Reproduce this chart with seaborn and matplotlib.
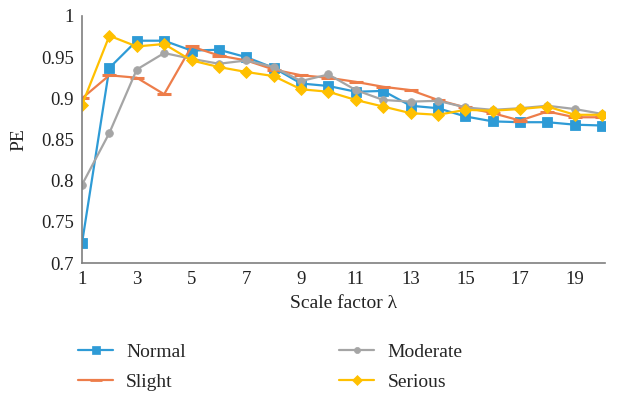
import matplotlib
matplotlib.use("Agg")
import matplotlib.pyplot as plt
import seaborn as sns
import pandas as pd

# Scale factor values
scale = list(range(1, 21))

# PE for each group
normal = [0.724, 0.937, 0.970, 0.970, 0.958, 0.959, 0.950, 0.937, 0.918, 0.915,
          0.908, 0.909, 0.891, 0.888, 0.878, 0.872, 0.871, 0.871, 0.868, 0.867]
slight = [0.900, 0.928, 0.925, 0.905, 0.963, 0.952, 0.946, 0.935, 0.928, 0.925,
          0.920, 0.914, 0.910, 0.898, 0.889, 0.882, 0.873, 0.884, 0.877, 0.877]
moderate = [0.795, 0.858, 0.935, 0.955, 0.948, 0.942, 0.946, 0.938, 0.921, 0.929,
            0.910, 0.898, 0.896, 0.897, 0.889, 0.886, 0.888, 0.891, 0.887, 0.881]
serious = [0.892, 0.976, 0.963, 0.966, 0.946, 0.938, 0.932, 0.927, 0.911, 0.908,
           0.898, 0.890, 0.882, 0.880, 0.886, 0.885, 0.887, 0.890, 0.880, 0.880]

groups = ["Normal", "Slight", "Moderate", "Serious"]
series = [normal, slight, moderate, serious]

df = pd.DataFrame({
    "lambda": scale * len(groups),
    "PE": [v for s in series for v in s],
    "group": [g for g in groups for _ in scale],
})

colors = {"Normal": "#2E9BD6", "Slight": "#ED7D4A", "Moderate": "#A5A5A5", "Serious": "#FFC000"}
markers = {"Normal": "s", "Slight": "_", "Moderate": "o", "Serious": "D"}
msizes = {"Normal": 7.5, "Slight": 10, "Moderate": 5.5, "Serious": 6.5}

sns.set_style("white")
plt.rcParams["font.family"] = ["Liberation Serif", "DejaVu Serif"]

fig = plt.figure(figsize=(6.28, 3.93), dpi=100)
ax = fig.add_axes([82 / 628, 1 - 263 / 393, (605 - 82) / 628, (263 - 16) / 393])

handles = []
for g in groups:
    sub = df[df["group"] == g]
    sns.lineplot(data=sub, x="lambda", y="PE", color=colors[g], marker=markers[g],
                 markersize=msizes[g], markeredgecolor=colors[g],
                 markeredgewidth=2.2 if g == "Slight" else 0.6,
                 linewidth=1.6, ax=ax, legend=False)
    h, = ax.plot([], [], color=colors[g], marker=markers[g], markersize=msizes[g] * 0.8,
                 markeredgewidth=2.0 if g == "Slight" else 0.5,
                 markeredgecolor=colors[g], linewidth=1.6)
    handles.append(h)

ax.set_xlim(1, 20.1)
ax.set_ylim(0.7, 1.0)
ax.set_xticks(range(1, 20, 2))
yt = [0.7, 0.75, 0.8, 0.85, 0.9, 0.95, 1.0]
ax.set_yticks(yt)
ax.set_yticklabels(["0.7", "0.75", "0.8", "0.85", "0.9", "0.95", "1"])
ax.tick_params(axis="both", length=0, labelsize=13.5, pad=6, colors="#222222")

for side in ["top", "right"]:
    ax.spines[side].set_visible(False)
for side in ["left", "bottom"]:
    ax.spines[side].set_color("#7F7F7F")
    ax.spines[side].set_linewidth(1.2)

ax.set_xlabel("Scale factor λ", fontsize=14, color="#222222", labelpad=5)
ax.set_ylabel("PE", fontsize=14, color="#222222", labelpad=10)

fig.legend(handles, groups, loc="upper left", bbox_to_anchor=(78 / 628, 1 - 343 / 393),
           ncol=2, frameon=False, fontsize=14, handlelength=1.8, handletextpad=0.67,
           columnspacing=7.9, labelspacing=0.65, borderpad=0, borderaxespad=0)

fig.savefig("out.png", dpi=100, facecolor="white")
